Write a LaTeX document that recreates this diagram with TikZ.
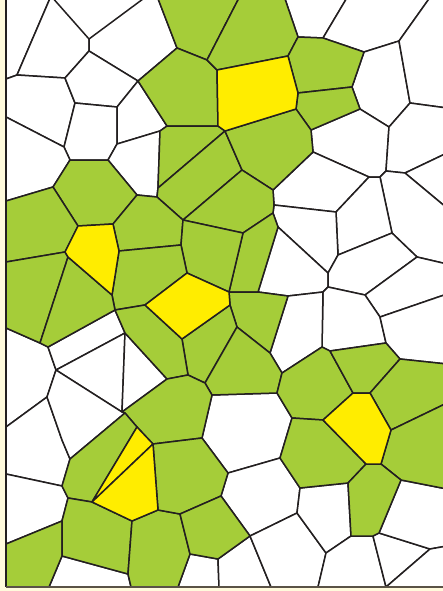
\documentclass[tikz,border=0pt]{standalone}
\definecolor{cream}{HTML}{FFFADC}
\definecolor{leaf}{HTML}{A5CD39}
\definecolor{sun}{HTML}{FFED00}
\definecolor{linec}{HTML}{231F20}
\definecolor{framec}{HTML}{5A5246}
\tikzset{
  cell/.style={draw=linec, line width=1.5pt, line join=round},
  wcell/.style={cell, fill=white},
  gcell/.style={cell, fill=leaf},
  ycell/.style={cell, fill=sun},
  framel/.style={draw=framec, line width=1.8pt}
}
\begin{document}
\begin{tikzpicture}[x=1pt,y=-1pt]
\useasboundingbox (0,0) rectangle (443,591);
\fill[cream] (0,0) rectangle (443,591);
\fill[white] (6,0) rectangle (443,587);
% border points
\coordinate (LT) at (6,-4);
\coordinate (L1) at (6,79);
\coordinate (L2) at (6,117);
\coordinate (L3) at (6,201);
\coordinate (L4) at (6,262);
\coordinate (L5) at (6,328);
\coordinate (L6) at (6,427);
\coordinate (L7) at (6,474);
\coordinate (L8) at (6,544);
\coordinate (LB) at (6,587);
\coordinate (T1) at (51,-4);
\coordinate (T2) at (147,-4);
\coordinate (T3) at (157,-4);
\coordinate (T4) at (240,-4);
\coordinate (T5) at (284,-4);
\coordinate (T6) at (348,-4);
\coordinate (T7) at (431,-4);
\coordinate (TR) at (447,-4);
\coordinate (R1) at (447,108);
\coordinate (R2) at (447,153);
\coordinate (R3) at (447,208);
\coordinate (R4) at (447,264);
\coordinate (R5) at (447,294);
\coordinate (R6) at (447,364);
\coordinate (R7) at (447,403);
\coordinate (R8) at (447,489);
\coordinate (R9) at (447,546);
\coordinate (RB) at (447,587);
\coordinate (B1) at (49,587);
\coordinate (B2) at (131,587);
\coordinate (B3) at (178,587);
\coordinate (B4) at (219,587);
\coordinate (B5) at (271,587);
\coordinate (B6) at (318,587);
\coordinate (B7) at (386,587);
% interior vertices
\coordinate (a1) at (17,75);
\coordinate (a2) at (89,39);
\coordinate (a3) at (89,51);
\coordinate (a4) at (138,81);
\coordinate (a5) at (65,78);
\coordinate (a6) at (75,103);
\coordinate (a7) at (117,107);
\coordinate (a8) at (64,147);
\coordinate (a9) at (117,144);
\coordinate (a10) at (177,48);
\coordinate (a11) at (207,60);
\coordinate (a12) at (217,70);
\coordinate (a13) at (288,56);
\coordinate (a14) at (218,126);
\coordinate (a15) at (225,131);
\coordinate (a16) at (167,126);
\coordinate (a17) at (160,131);
\coordinate (a18) at (323,38);
\coordinate (a19) at (298,37);
\coordinate (a20) at (364,52);
\coordinate (a21) at (399,41);
\coordinate (a22) at (410,103);
\coordinate (a23) at (389,127);
\coordinate (a24) at (352,87);
\coordinate (a25) at (360,109);
\coordinate (a26) at (311,130);
\coordinate (a27) at (298,93);
\coordinate (a28) at (296,109);
\coordinate (a29) at (313,152);
\coordinate (a30) at (158,188);
\coordinate (a31) at (157,197);
\coordinate (a32) at (242,170);
\coordinate (a33) at (273,190);
\coordinate (a34) at (183,220);
\coordinate (a35) at (274,205);
\coordinate (a36) at (273,213);
\coordinate (a37) at (243,233);
\coordinate (a38) at (187,273);
\coordinate (a39) at (181,245);
\coordinate (a40) at (229,292);
\coordinate (a41) at (230,305);
\coordinate (a42) at (182,339);
\coordinate (a43) at (145,305);
\coordinate (a44) at (278,227);
\coordinate (a45) at (258,292);
\coordinate (a46) at (288,296);
\coordinate (a47) at (237,327);
\coordinate (a48) at (270,353);
\coordinate (a49) at (205,383);
\coordinate (a50) at (188,375);
\coordinate (a51) at (167,379);
\coordinate (a52) at (212,395);
\coordinate (a53) at (277,393);
\coordinate (a54) at (282,373);
\coordinate (a55) at (292,418);
\coordinate (a56) at (202,438);
\coordinate (a57) at (70,160);
\coordinate (a58) at (108,160);
\coordinate (a59) at (137,195);
\coordinate (a60) at (113,224);
\coordinate (a61) at (78,226);
\coordinate (a62) at (53,187);
\coordinate (a63) at (119,251);
\coordinate (a64) at (112,295);
\coordinate (a65) at (68,257);
\coordinate (a66) at (65,252);
\coordinate (a67) at (40,343);
\coordinate (a68) at (48,347);
\coordinate (a69) at (115,310);
\coordinate (a70) at (125,333);
\coordinate (a71) at (122,412);
\coordinate (a72) at (56,370);
\coordinate (a73) at (47,397);
\coordinate (a74) at (62,440);
\coordinate (a75) at (125,413);
\coordinate (a76) at (137,427);
\coordinate (a77) at (70,459);
\coordinate (a78) at (62,486);
\coordinate (a79) at (68,498);
\coordinate (a80) at (92,502);
\coordinate (a81) at (62,521);
\coordinate (a82) at (62,556);
\coordinate (a83) at (128,574);
\coordinate (a84) at (132,521);
\coordinate (a85) at (158,510);
\coordinate (a86) at (153,444);
\coordinate (a87) at (180,514);
\coordinate (a88) at (190,554);
\coordinate (a89) at (221,496);
\coordinate (a90) at (228,473);
\coordinate (a91) at (250,536);
\coordinate (a92) at (218,559);
\coordinate (a93) at (280,458);
\coordinate (a94) at (300,488);
\coordinate (a95) at (297,513);
\coordinate (a96) at (326,553);
\coordinate (a97) at (348,483);
\coordinate (a98) at (351,536);
\coordinate (a99) at (373,536);
\coordinate (a100) at (379,533);
\coordinate (a101) at (430,549);
\coordinate (a102) at (401,480);
\coordinate (a103) at (381,464);
\coordinate (a104) at (366,464);
\coordinate (a105) at (391,430);
\coordinate (a106) at (370,393);
\coordinate (a107) at (353,393);
\coordinate (a108) at (323,420);
\coordinate (a109) at (330,351);
\coordinate (a110) at (322,347);
\coordinate (a111) at (386,343);
\coordinate (a112) at (400,359);
\coordinate (a113) at (380,317);
\coordinate (a114) at (365,295);
\coordinate (a115) at (328,287);
\coordinate (a116) at (323,292);
\coordinate (a117) at (328,273);
\coordinate (a118) at (338,255);
\coordinate (a119) at (336,212);
\coordinate (a120) at (392,233);
\coordinate (a121) at (417,257);
\coordinate (a122) at (369,177);
\coordinate (a123) at (380,177);
\coordinate (a124) at (386,171);
\coordinate (a125) at (405,173);
\begin{scope}
\clip (6,0) rectangle (443,587);
% white cells
\path[wcell] (LT)--(T1)--(a1)--(L1)--cycle;
\path[wcell] (T1)--(a2)--(a3)--(a5)--(a1)--cycle;
\path[wcell] (T2)--(T3)--(a10)--(a4)--(a3)--(a2)--cycle;
\path[wcell] (L1)--(a1)--(a5)--(a6)--(a8)--(L2)--cycle;
\path[wcell] (a5)--(a3)--(a4)--(a7)--(a6)--cycle;
\path[wcell] (a6)--(a7)--(a9)--(a58)--(a57)--(a8)--cycle;
\path[wcell] (a7)--(a4)--(a16)--(a17)--(a9)--cycle;
\path[wcell] (L2)--(a8)--(a57)--(a62)--(L3)--cycle;
\path[wcell] (T5)--(T6)--(a18)--(a19)--cycle;
\path[wcell] (T6)--(T7)--(a21)--(a20)--(a18)--cycle;
\path[wcell] (a20)--(a21)--(a22)--(a23)--(a25)--(a24)--cycle;
\path[wcell] (T7)--(TR)--(R1)--(a22)--(a21)--cycle;
\path[wcell] (a25)--(a23)--(a124)--(a123)--(a122)--(a29)--(a26)--cycle;
\path[wcell] (a22)--(R1)--(R2)--(a125)--(a124)--(a23)--cycle;
\path[wcell] (a125)--(R2)--(R3)--cycle;
\path[wcell] (a124)--(a125)--(R3)--(R4)--(a121)--(a120)--(a123)--cycle;
\path[wcell] (a9)--(a17)--(a30)--(a31)--(a59)--(a58)--cycle;
\path[wcell] (a33)--(a29)--(a122)--(a119)--(a35)--cycle;
\path[wcell] (a122)--(a123)--(a120)--(a118)--(a119)--cycle;
\path[wcell] (a35)--(a119)--(a118)--(a117)--(a44)--(a36)--cycle;
\path[wcell] (a44)--(a117)--(a115)--(a116)--(a46)--(a45)--cycle;
\path[wcell] (a118)--(a120)--(a121)--(a114)--(a115)--(a117)--cycle;
\path[wcell] (a121)--(R4)--(R5)--(a113)--(a114)--cycle;
\path[wcell] (a115)--(a114)--(a113)--(a111)--(a109)--(a110)--(a116)--cycle;
\path[wcell] (a113)--(R5)--(R6)--(a112)--(a111)--cycle;
\path[wcell] (a46)--(a116)--(a110)--(a54)--(a48)--cycle;
\path[wcell] (L5)--(a67)--(a68)--(a72)--(a73)--(L6)--cycle;
\path[wcell] (a68)--(a69)--(a70)--(a72)--cycle;
\path[wcell] (a72)--(a70)--(a71)--cycle;
\path[wcell] (a70)--(a51)--(a71)--cycle;
\path[wcell] (L6)--(a73)--(a74)--(a77)--(a78)--(L7)--cycle;
\path[wcell] (a73)--(a72)--(a71)--(a75)--(a77)--(a74)--cycle;
\path[wcell] (L7)--(a78)--(a79)--(a81)--(L8)--cycle;
\path[wcell] (a82)--(a83)--(B2)--(B1)--cycle;
\path[wcell] (a88)--(a92)--(B4)--(B3)--cycle;
\path[wcell] (a92)--(a91)--(B5)--(B4)--cycle;
\path[wcell] (a56)--(a52)--(a53)--(a55)--(a93)--(a90)--cycle;
\path[wcell] (a90)--(a93)--(a94)--(a95)--(a91)--(a89)--cycle;
\path[wcell] (a91)--(a95)--(a96)--(B6)--(B5)--cycle;
\path[wcell] (a94)--(a97)--(a98)--(a96)--(a95)--cycle;
\path[wcell] (a98)--(a99)--(B7)--(B6)--(a96)--cycle;
\path[wcell] (a99)--(a100)--(a101)--(B7)--cycle;
\path[wcell] (a102)--(R8)--(R9)--(a101)--(a100)--cycle;
\path[wcell] (a101)--(R9)--(RB)--(B7)--cycle;
% green cells
\path[gcell] (T3)--(T4)--(a11)--(a10)--cycle;
\path[gcell] (a4)--(a10)--(a11)--(a12)--(a14)--(a16)--cycle;
\path[gcell] (T4)--(T5)--(a19)--(a13)--(a12)--(a11)--cycle;
\path[gcell] (a19)--(a18)--(a20)--(a24)--(a27)--(a13)--cycle;
\path[gcell] (a27)--(a24)--(a25)--(a26)--(a28)--cycle;
\path[gcell] (a17)--(a16)--(a14)--(a15)--(a30)--cycle;
\path[gcell] (a15)--(a32)--(a34)--(a31)--(a30)--cycle;
\path[gcell] (a15)--(a28)--(a26)--(a29)--(a33)--(a32)--cycle;
\path[gcell] (a57)--(a58)--(a59)--(a60)--(a61)--(a62)--cycle;
\path[gcell] (L3)--(a62)--(a61)--(a66)--(L4)--cycle;
\path[gcell] (a60)--(a59)--(a31)--(a34)--(a39)--(a63)--cycle;
\path[gcell] (a34)--(a32)--(a33)--(a35)--(a36)--(a37)--cycle;
\path[gcell] (a36)--(a44)--(a45)--(a40)--(a37)--cycle;
\path[gcell] (a39)--(a34)--(a37)--(a40)--(a38)--cycle;
\path[gcell] (a63)--(a39)--(a38)--(a43)--(a69)--(a64)--cycle;
\path[gcell] (L4)--(a66)--(a65)--(a67)--(L5)--cycle;
\path[gcell] (a65)--(a64)--(a69)--(a68)--(a67)--cycle;
\path[gcell] (a40)--(a45)--(a46)--(a48)--(a47)--(a41)--cycle;
\path[gcell] (a41)--(a47)--(a49)--(a50)--(a42)--cycle;
\path[gcell] (a47)--(a48)--(a54)--(a53)--(a52)--(a49)--cycle;
\path[gcell] (a43)--(a42)--(a50)--(a51)--(a70)--(a69)--cycle;
\path[gcell] (a71)--(a51)--(a50)--(a49)--(a52)--(a56)--(a86)--(a76)--(a75)--cycle;
\path[gcell] (a77)--(a75)--(a76)--(a80)--(a79)--(a78)--cycle;
\path[gcell] (L8)--(a81)--(a82)--(B1)--(LB)--cycle;
\path[gcell] (a81)--(a79)--(a80)--(a84)--(a83)--(a82)--cycle;
\path[gcell] (a84)--(a85)--(a87)--(a88)--(B3)--(B2)--(a83)--cycle;
\path[gcell] (a86)--(a56)--(a90)--(a89)--(a87)--(a85)--cycle;
\path[gcell] (a87)--(a89)--(a91)--(a92)--(a88)--cycle;
\path[gcell] (a53)--(a54)--(a110)--(a109)--(a107)--(a108)--(a55)--cycle;
\path[gcell] (a109)--(a111)--(a112)--(a106)--(a107)--cycle;
\path[gcell] (a106)--(a112)--(R6)--(R7)--(a105)--cycle;
\path[gcell] (a105)--(R7)--(R8)--(a102)--(a103)--cycle;
\path[gcell] (a55)--(a108)--(a104)--(a97)--(a94)--(a93)--cycle;
\path[gcell] (a104)--(a103)--(a102)--(a100)--(a99)--(a98)--(a97)--cycle;
% yellow cells
\path[ycell] (a12)--(a13)--(a27)--(a28)--(a15)--(a14)--cycle;
\path[ycell] (a61)--(a60)--(a63)--(a64)--(a65)--(a66)--cycle;
\path[ycell] (a43)--(a38)--(a40)--(a41)--(a42)--cycle;
\path[ycell] (a76)--(a86)--(a80)--cycle;
\path[ycell] (a86)--(a85)--(a84)--(a80)--cycle;
\path[ycell] (a107)--(a106)--(a105)--(a103)--(a104)--(a108)--cycle;
\end{scope}
% frame
\draw[draw=linec, line width=1.5pt] (6,0) -- (LB);
\draw[framel] (LB) -- (443,587);
\end{tikzpicture}
\end{document}
